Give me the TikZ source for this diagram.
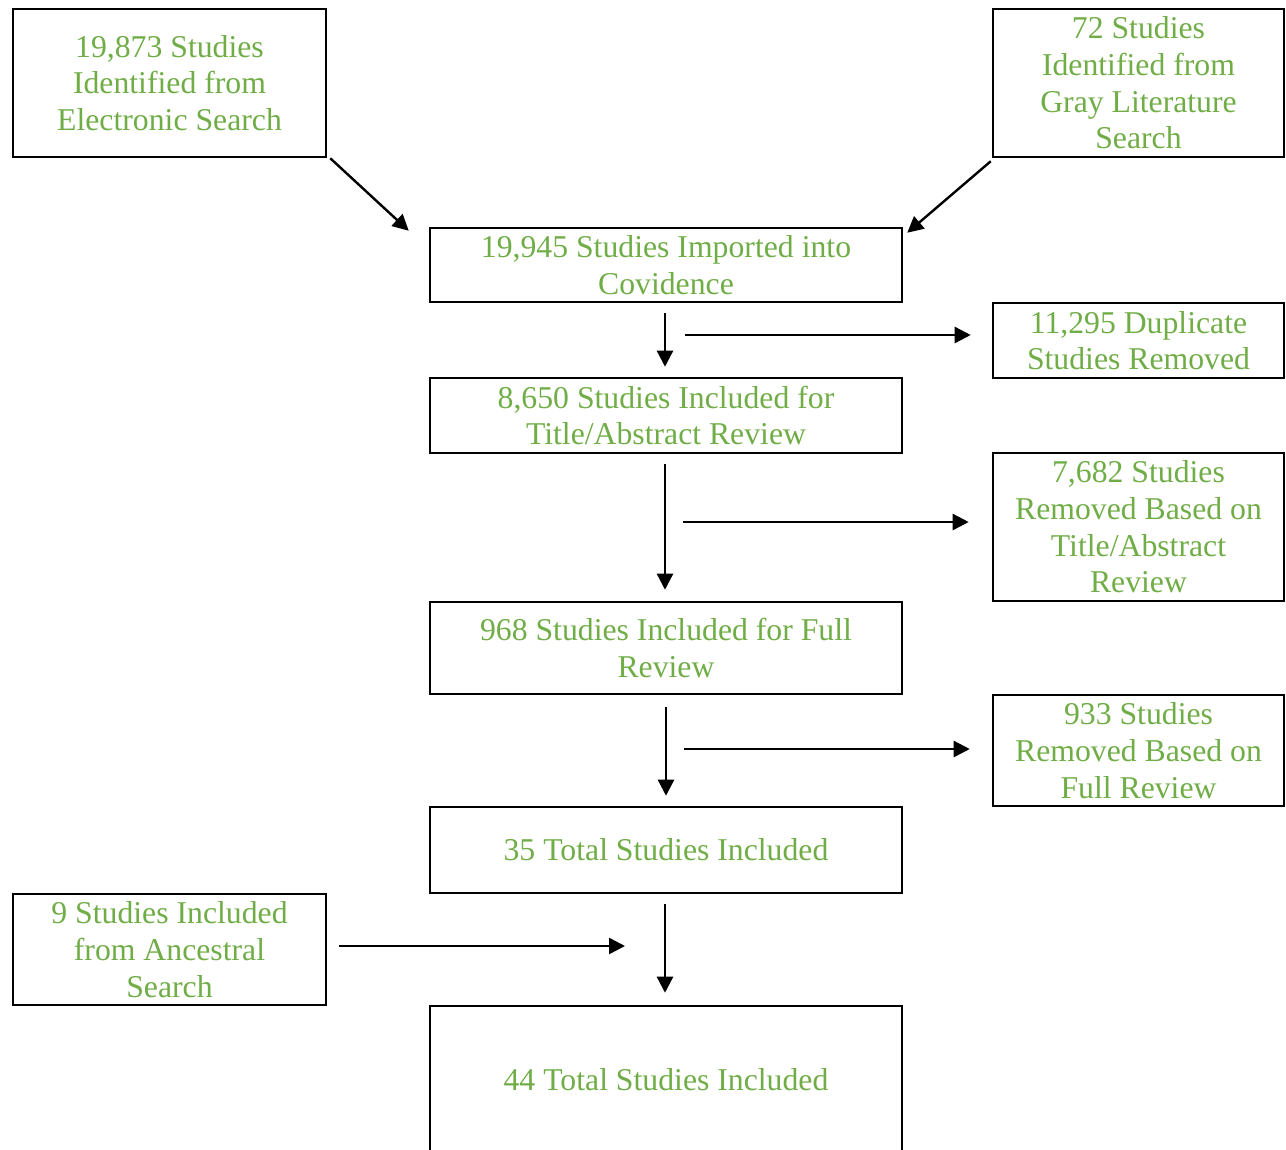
\documentclass[tikz,border=0pt]{standalone}
\usepackage{fontspec}
\setmainfont{Liberation Serif}
\usetikzlibrary{arrows.meta,calc}
\definecolor{txtgreen}{RGB}{112,173,71}
\begin{document}
\begin{tikzpicture}[x=0.75pt,y=-0.75pt,
  box/.style={draw=black,line width=1.9pt,rectangle,inner sep=0pt,align=center,
    text=txtgreen,font=\fontsize{23.8pt}{27.5pt}\selectfont},
  arr/.style={line width=1.8pt,-{Triangle[length=12pt,width=12pt]}}]
\useasboundingbox (0,0) rectangle (1286,1150);
\begin{scope}
\clip (0,0) rectangle (1286,1150);
\node[box,minimum width=234.75pt,minimum height=111pt] (A) at (169.5,83) {19,873 Studies\\Identified from\\Electronic Search};
\node[box,minimum width=218.25pt,minimum height=111pt] (B) at (1138.5,83) {72 Studies\\Identified from\\Gray Literature\\Search};
\node[box,minimum width=354pt,minimum height=55.5pt] (C) at (666,265) {19,945 Studies Imported into\\Covidence};
\node[box,minimum width=218.25pt,minimum height=56.25pt] (D) at (1138.5,340.5) {11,295 Duplicate\\Studies Removed};
\node[box,minimum width=354pt,minimum height=56.25pt] (E) at (666,415.5) {8,650 Studies Included for\\Title/Abstract Review};
\node[box,minimum width=218.25pt,minimum height=111pt] (F) at (1138.5,527) {7,682 Studies\\Removed Based on\\Title/Abstract\\Review};
\node[box,minimum width=354pt,minimum height=69pt] (G) at (666,648) {968 Studies Included for Full\\Review};
\node[box,minimum width=218.25pt,minimum height=83.25pt] (H) at (1138.5,750.5) {933 Studies\\Removed Based on\\Full Review};
\node[box,minimum width=354pt,minimum height=64.5pt] (I) at (666,850) {35 Total Studies Included};
\node[box,minimum width=234.75pt,minimum height=83.25pt] (J) at (169.5,949.5) {9 Studies Included\\from Ancestral\\Search};
\node[box,minimum width=354pt,minimum height=111pt] (K) at (666,1080) {44 Total Studies Included};
\end{scope}
% connectors
\draw[arr] ($(A.south east)+(3,0)$) -- ($(C.north west)+(-20,4)$);
\draw[arr] ($(B.south west)+(-1,3)$) -- ($(C.north east)+(4,6)$);
\draw[arr] ($(C.south)+(-1,10)$) -- ($(E.north)+(-1,-10)$);
\draw[arr] ($(E.south)+(-1,10)$) -- ($(G.north)+(-1,-11)$);
\draw[arr] ($(G.south)+(0,12)$) -- ($(I.north)+(0,-10)$);
\draw[arr] ($(I.south)+(-1,10)$) -- ($(K.north)+(-1,-12)$);
\coordinate (dstart) at (685,335);
\coordinate (fstart) at (683,522);
\coordinate (hstart) at (684,749);
\coordinate (jend) at (625,946);
\draw[arr] (dstart) -- ($(D.west)+(-21,-5.5)$);
\draw[arr] (fstart) -- ($(F.west)+(-23,-5)$);
\draw[arr] (hstart) -- ($(H.west)+(-22,-1.5)$);
\draw[arr] ($(J.east)+(12,-3.5)$) -- (jend);
\end{tikzpicture}
\end{document}
